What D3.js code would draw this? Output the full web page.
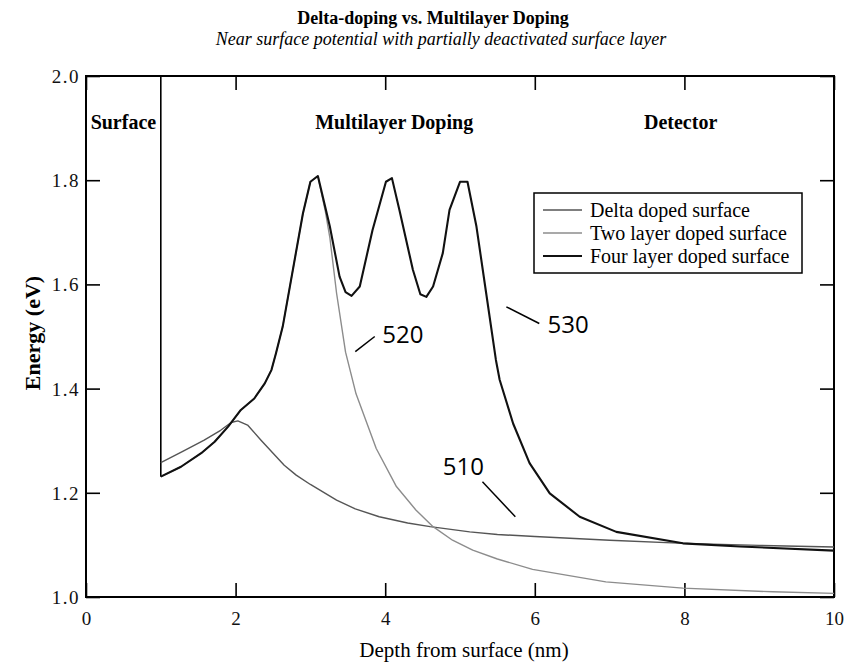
<!DOCTYPE html>
<html>
<head>
<meta charset="utf-8">
<script src="https://cdn.jsdelivr.net/npm/d3@7"></script>
<style>
  html, body { margin: 0; padding: 0; background: #fff; }
  svg { display: block; }
</style>
</head>
<body>
<div id="chart"></div>
<script>
// depth (nm) / energy (eV)
const deltaDepth = [1.0, 1.3, 1.58, 1.8, 1.94, 2.03, 2.16, 2.34, 2.65, 2.81, 3.0, 3.35, 3.6, 3.92, 4.3, 4.6, 5.13, 5.5, 6.0, 7.0, 8.0, 9.0, 10.0]
const deltaEnergy = [1.258, 1.280, 1.301, 1.320, 1.335, 1.338, 1.330, 1.301, 1.253, 1.234, 1.216, 1.186, 1.169, 1.154, 1.142, 1.135, 1.125, 1.120, 1.116, 1.109, 1.103, 1.099, 1.096]

const twoDepth = [1.0, 1.27, 1.54, 1.72, 1.9, 2.07, 2.25, 2.39, 2.48, 2.54, 2.63, 2.9, 3.0, 3.1, 3.2, 3.26, 3.35, 3.47, 3.61, 3.88, 4.15, 4.41, 4.64, 4.9, 5.17, 5.5, 5.97, 6.95, 7.98, 9.18, 10.0]
const twoEnergy = [1.231, 1.250, 1.276, 1.298, 1.327, 1.359, 1.381, 1.410, 1.436, 1.468, 1.519, 1.736, 1.797, 1.808, 1.740, 1.690, 1.583, 1.470, 1.390, 1.285, 1.212, 1.167, 1.135, 1.109, 1.090, 1.073, 1.053, 1.029, 1.017, 1.010, 1.007]

const fourDepth = [1.0, 1.27, 1.54, 1.72, 1.9, 2.07, 2.25, 2.39, 2.48, 2.54, 2.63, 2.9, 3.0, 3.1, 3.26, 3.39, 3.47, 3.55, 3.66, 3.83, 4.01, 4.09, 4.19, 4.37, 4.47, 4.55, 4.64, 4.77, 4.86, 5.0, 5.1, 5.22, 5.35, 5.48, 5.53, 5.71, 5.93, 6.2, 6.6, 7.09, 7.98, 8.74, 10.0]
const fourEnergy = [1.231, 1.250, 1.276, 1.298, 1.327, 1.359, 1.381, 1.410, 1.436, 1.468, 1.519, 1.736, 1.797, 1.808, 1.711, 1.615, 1.585, 1.578, 1.596, 1.704, 1.797, 1.804, 1.743, 1.628, 1.581, 1.576, 1.596, 1.660, 1.743, 1.797, 1.797, 1.711, 1.583, 1.455, 1.417, 1.333, 1.257, 1.199, 1.154, 1.125, 1.103, 1.097, 1.089]

const seriesNames = ['Delta doped surface', 'Two layer doped surface', 'Four layer doped surface']
const xTicks = [0, 2, 4, 6, 8, 10]
const yTicks = [1.0, 1.2, 1.4, 1.6, 1.8, 2.0]
const regionNames = ['Surface', 'Multilayer Doping', 'Detector']
const regionCenters = [0.5, 4.12, 7.95]
const surfaceDepth = 1.0
// callouts: label, leader line start/end, label anchor (data units)
const calloutLabels = ['520', '530', '510']
const calloutLines = [[3.60, 1.471, 3.86, 1.500], [5.62, 1.557, 6.06, 1.525], [5.30, 1.221, 5.74, 1.154]]
const calloutText = [[3.96, 1.487], [6.17, 1.507], [4.77, 1.234]]

const W = 846, H = 662
const m = { top: 76, right: 12, bottom: 65, left: 86 }
const serif = '"Liberation Serif", "Times New Roman", serif'

const svg = d3.select('#chart').append('svg').attr('width', W).attr('height', H)
svg.append('rect').attr('width', W).attr('height', H).attr('fill', '#fff')

const x = d3.scaleLinear().domain([0, 10]).range([m.left, W - m.right])
const y = d3.scaleLinear().domain([1.0, 2.0]).range([H - m.bottom, m.top])

// axes, ticks pointing inward on all four sides
const fmtY = d3.format('.1f')
const gx = svg.append('g').attr('transform', `translate(0,${y(1.0)})`)
  .call(d3.axisBottom(x).tickValues(xTicks).tickSize(-14).tickPadding(15).tickFormat(d3.format('d')))
const gy = svg.append('g').attr('transform', `translate(${x(0)},0)`)
  .call(d3.axisLeft(y).tickValues(yTicks).tickSize(-14).tickPadding(6).tickFormat(fmtY))
const gt = svg.append('g').attr('transform', `translate(0,${y(2.0)})`)
  .call(d3.axisTop(x).tickValues(xTicks).tickSize(-14).tickFormat(''))
const gr = svg.append('g').attr('transform', `translate(${x(10)},0)`)
  .call(d3.axisRight(y).tickValues(yTicks).tickSize(-14).tickFormat(''))
;[gx, gy, gt, gr].forEach(g => {
  g.attr('font-family', serif).attr('font-size', 19)
  g.select('.domain').remove()
  g.selectAll('.tick line').attr('stroke', '#000').attr('stroke-width', 1.6)
  g.selectAll('.tick text').attr('fill', '#111')
})
gy.selectAll('.tick text').attr('dy', '0.34em').attr('letter-spacing', 1.5)

svg.append('rect')
  .attr('x', x(0)).attr('y', y(2.0))
  .attr('width', x(10) - x(0)).attr('height', y(1.0) - y(2.0))
  .attr('fill', 'none').attr('stroke', '#000').attr('stroke-width', 2)

// surface boundary
svg.append('line')
  .attr('x1', x(surfaceDepth)).attr('x2', x(surfaceDepth))
  .attr('y1', y(2.0)).attr('y2', y(fourEnergy[0]))
  .attr('stroke', '#000').attr('stroke-width', 1.6)

const series = [
  { name: seriesNames[0], depth: deltaDepth, energy: deltaEnergy, color: '#555', w: 1.4 },
  { name: seriesNames[1], depth: twoDepth, energy: twoEnergy, color: '#8c8c8c', w: 1.4 },
  { name: seriesNames[2], depth: fourDepth, energy: fourEnergy, color: '#111', w: 2.1 }
]
const line = d3.line().x(d => x(d[0])).y(d => y(d[1]))
series.forEach(s => {
  svg.append('path')
    .datum(d3.zip(s.depth, s.energy))
    .attr('d', line)
    .attr('fill', 'none')
    .attr('stroke', s.color)
    .attr('stroke-width', s.w)
    .attr('stroke-linejoin', 'round')
})

// region labels
svg.selectAll('.region').data(regionNames).enter().append('text')
  .attr('x', (d, i) => x(regionCenters[i])).attr('y', 129)
  .attr('text-anchor', 'middle')
  .attr('font-family', serif).attr('font-weight', 'bold').attr('font-size', 20)
  .text(d => d)

// callouts
calloutLabels.forEach((lab, i) => {
  const c = calloutLines[i]
  svg.append('line')
    .attr('x1', x(c[0])).attr('y1', y(c[1])).attr('x2', x(c[2])).attr('y2', y(c[3]))
    .attr('stroke', '#000').attr('stroke-width', 1.5)
  svg.append('text')
    .attr('x', x(calloutText[i][0])).attr('y', y(calloutText[i][1]))
    .attr('font-family', '"Open Sans", "Noto Sans", sans-serif').attr('font-size', 24)
    .text(lab)
})

// legend
const lg = svg.append('g').attr('transform', 'translate(534,193)')
lg.append('rect').attr('width', 268).attr('height', 80)
  .attr('fill', '#fff').attr('stroke', '#000').attr('stroke-width', 1.5)
series.forEach((s, i) => {
  const cy = 17 + i * 23
  lg.append('line').attr('x1', 9).attr('x2', 48).attr('y1', cy).attr('y2', cy)
    .attr('stroke', s.color).attr('stroke-width', s.w)
  lg.append('text').attr('x', 56).attr('y', cy + 7)
    .attr('font-family', serif).attr('font-size', 20).text(s.name)
})

// titles
svg.append('text').attr('x', 433).attr('y', 24).attr('text-anchor', 'middle')
  .attr('font-family', serif).attr('font-weight', 'bold').attr('font-size', 18)
  .text('Delta-doping vs. Multilayer Doping')
svg.append('text').attr('x', 441).attr('y', 45).attr('text-anchor', 'middle')
  .attr('font-family', serif).attr('font-style', 'italic').attr('font-size', 18)
  .text('Near surface potential with partially deactivated surface layer')

svg.append('text').attr('x', 464).attr('y', 657).attr('text-anchor', 'middle')
  .attr('font-family', serif).attr('font-size', 21)
  .text('Depth from surface (nm)')
svg.append('text').attr('transform', 'translate(40,333) rotate(-90)').attr('text-anchor', 'middle')
  .attr('font-family', serif).attr('font-weight', 'bold').attr('font-size', 22)
  .text('Energy (eV)')
</script>
</body>
</html>
